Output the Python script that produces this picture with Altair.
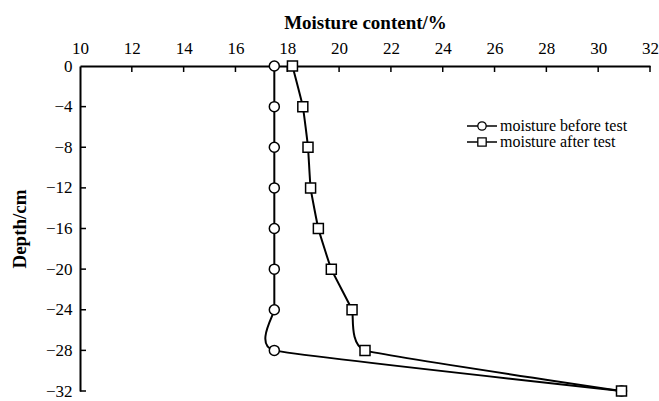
import altair as alt
import pandas as pd

# Soil profile: depth (cm, negative downward) and moisture content (%)
depth = [0, -4, -8, -12, -16, -20, -24, -28, -32]
moisture_before = [17.5, 17.5, 17.5, 17.5, 17.5, 17.5, 17.5, 17.5, 30.9]
moisture_after = [18.2, 18.6, 18.8, 18.9, 19.2, 19.7, 20.5, 21.0, 30.9]
series_labels = ["moisture before test", "moisture after test"]

x_label_values = [10, 12, 14, 16, 18, 20, 22, 24, 26, 28, 30, 32]
y_label_values = [0, -4, -8, -12, -16, -20, -24, -28, -32]
x_tick_values = [12, 14, 16, 18, 20, 22, 24, 26, 28, 30, 32]
y_tick_values = [-4, -8, -12, -16, -20, -24, -28, -32]

FONT = "Liberation Serif"

df = pd.DataFrame({
    "depth": depth + depth,
    "moisture": moisture_before + moisture_after,
    "series": [series_labels[0]] * len(depth) + [series_labels[1]] * len(depth),
})

x_scale = alt.Scale(domain=[10, 32], nice=False, zero=False)
y_scale = alt.Scale(domain=[-32, 0], nice=False, zero=False)

x_axis = alt.Axis(
    orient="top", title="Moisture content/%", values=x_label_values,
    ticks=False, tickSize=0, grid=False, labelPadding=9, titlePadding=7,
    labelFlush=False,
)
y_axis = alt.Axis(
    orient="left", title="Depth/cm", values=y_label_values, ticks=False,
    tickSize=0, grid=False, labelPadding=8, titlePadding=16, labelFlush=False,
)

base = alt.Chart(df).encode(
    x=alt.X("moisture:Q", scale=x_scale, axis=x_axis),
    y=alt.Y("depth:Q", scale=y_scale, axis=y_axis),
    order=alt.Order("depth:Q", sort="descending"),
    detail="series:N",
)

# smoothed profile curves, following the points in depth order
lines = base.mark_line(interpolate="cardinal", tension=0.65,
                       color="black", strokeWidth=2)

pts_before = base.transform_filter(
    alt.datum.series == series_labels[0]
).mark_point(shape="circle", filled=True, fill="white", stroke="black",
             strokeWidth=1.5, size=100, opacity=1)

pts_after = base.transform_filter(
    alt.datum.series == series_labels[1]
).mark_point(shape="square", filled=True, fill="white", stroke="black",
             strokeWidth=1.5, size=100, opacity=1)

# inward tick marks along the top and left axes
x_ticks = alt.Chart(pd.DataFrame({"moisture": x_tick_values})).mark_rule(
    color="black", strokeWidth=1.5
).encode(x=alt.X("moisture:Q", scale=x_scale, axis=x_axis),
         y=alt.value(0), y2=alt.value(6))

y_ticks = alt.Chart(pd.DataFrame({"depth": y_tick_values})).mark_rule(
    color="black", strokeWidth=1.5
).encode(y=alt.Y("depth:Q", scale=y_scale, axis=y_axis),
         x=alt.value(0), x2=alt.value(6))

# legend drawn inside the plot area
legend_layers = []
for i, (label, shape) in enumerate(zip(series_labels, ["circle", "square"])):
    ly = 60 + i * 16
    one = pd.DataFrame({"label": [label]})
    legend_layers.append(
        alt.Chart(one).mark_rule(color="black", strokeWidth=1.5).encode(
            x=alt.value(387), x2=alt.value(417), y=alt.value(ly))
    )
    legend_layers.append(
        alt.Chart(one).mark_point(shape=shape, filled=True, fill="white",
                                  stroke="black", strokeWidth=1.3, size=70,
                                  opacity=1).encode(
            x=alt.value(402), y=alt.value(ly))
    )
    legend_layers.append(
        alt.Chart(one).mark_text(align="left", baseline="middle", font=FONT,
                                 fontSize=16, color="black").encode(
            x=alt.value(420), y=alt.value(ly), text="label:N")
    )

chart = alt.layer(
    lines, pts_before, pts_after, x_ticks, y_ticks, *legend_layers
).properties(
    width=570, height=325,
    autosize=alt.AutoSizeParams(type="none"),
    padding={"left": 80, "top": 66, "right": 9, "bottom": 10},
).configure(
    background="white"
).configure_view(
    stroke=None
).configure_axis(
    domainColor="black", domainWidth=2,
    labelFont=FONT, labelFontSize=17, labelColor="black",
    titleFont=FONT, titleFontSize=19, titleFontWeight="bold", titleColor="black",
)

chart.save("out.html", embed_options={"renderer": "svg", "actions": False})
